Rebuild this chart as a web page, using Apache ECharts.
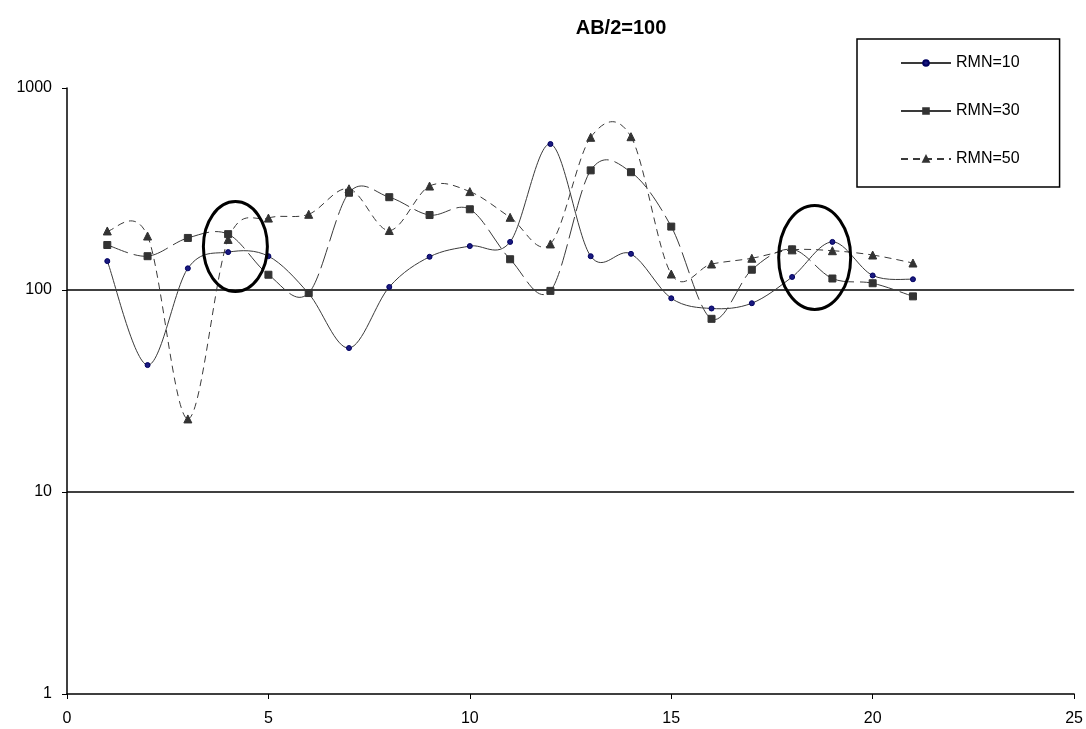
<!DOCTYPE html>
<html><head><meta charset="utf-8">
<script src="https://cdn.jsdelivr.net/npm/echarts@6/dist/echarts.min.js"></script>
<style>html,body{margin:0;padding:0;background:#fff}#c{width:1086px;height:729px}</style>
</head><body><div id="c"></div>
<script>
const xs = [1,2,3,4,5,6,7,8,9,10,11,12,13,14,15,16,17,18,19,20,21];
const rmn10 = [139,42.5,128,154,147,96,51.6,103.5,146,165,173,528,147,151,91,81,86,116,173,118,113];
const rmn30 = [167,147,181,189,119,96.6,303,288,235,251,142,99,391,383,206,72,126,159,114,108,93];
const rmn50 = [196,185,23,178,227,237,317,197,327,307,229,169,570,574,120,134.5,143.6,158,156.5,149,136];
const seriesNames = ['RMN=10','RMN=30','RMN=50'];
const titleText = 'AB/2=100';
const ellipses = [{x:4.18,y:164,rx:32,ry:45},{x:18.56,y:145,rx:36,ry:52}];

const pair = a => xs.map((x,i)=>[x,a[i]]);
const font = 'Liberation Sans, Arial, sans-serif';
const LINE = '#3a3a3a';
const styles = [
  {dash:null, symbol:'circle', size:5, color:'#1a1a80', border:'#000060'},
  {dash:[22,6], symbol:'rect', size:7, color:'#333', border:'#333'},
  {dash:[7,5], symbol:'triangle', size:8, color:'#333', border:'#333'}
];
const allVals = [rmn10, rmn30, rmn50];

// Excel-like smoothed curve drawn through the axis scales (api.coord)
function curveSeries(vals, st){
  return {
    type:'custom', data:pair(vals), encode:{x:0,y:1}, silent:true, z:2,
    renderItem:function(params, api){
      if (params.dataIndex !== 0) return null;
      const P = xs.map((x,i)=>api.coord([x, vals[i]]));
      const n = P.length, children = [];
      for (let i=0;i<n-1;i++){
        const p0 = P[Math.max(i-1,0)], p1 = P[i], p2 = P[i+1], p3 = P[Math.min(i+2,n-1)];
        children.push({type:'bezierCurve', shape:{
          x1:p1[0], y1:p1[1], x2:p2[0], y2:p2[1],
          cpx1:p1[0]+(p2[0]-p0[0])/6, cpy1:p1[1]+(p2[1]-p0[1])/6,
          cpx2:p2[0]-(p3[0]-p1[0])/6, cpy2:p2[1]-(p3[1]-p1[1])/6},
          style:{fill:null, stroke:LINE, lineWidth:1, lineDash:st.dash}});
      }
      return {type:'group', children};
    }
  };
}

const chart = echarts.init(document.getElementById('c'));
const series = [];
seriesNames.forEach((nm,k)=>{
  const st = styles[k];
  series.push({name:nm, type:'line', data:pair(allVals[k]), symbol:st.symbol, symbolSize:st.size, z:3,
    lineStyle:{color:LINE, width:1, type:st.dash||'solid', opacity:0},
    itemStyle:{color:st.color, borderColor:st.border, borderWidth:1}});
});
seriesNames.forEach((nm,k)=>series.push(curveSeries(allVals[k], styles[k])));

chart.setOption({
  animation:false,
  title:{text:titleText,left:616,top:13,textAlign:'center',textStyle:{fontFamily:font,fontSize:20,fontWeight:'bold',color:'#000'}},
  grid:{left:67,right:11,top:88,bottom:35},
  legend:{orient:'vertical',left:857,top:39,itemWidth:50,itemHeight:7,itemGap:32,
    padding:[16,40,20,43],borderColor:'#000',borderWidth:1.5,
    lineStyle:{opacity:1},
    textStyle:{fontFamily:font,fontSize:16,lineHeight:16,color:'#000'},data:seriesNames},
  xAxis:{type:'value',min:0,max:25,interval:5,
    axisLine:{lineStyle:{color:'#000',width:1.5}},
    axisTick:{show:true,length:5,lineStyle:{color:'#000'}},
    axisLabel:{fontFamily:font,fontSize:16,color:'#000',margin:17},
    splitLine:{show:false}},
  yAxis:{type:'log',logBase:10,min:1,max:1000,
    axisLine:{show:true,lineStyle:{color:'#000',width:1.5}},
    axisTick:{show:true,length:5,lineStyle:{color:'#000'}},
    axisLabel:{fontFamily:font,fontSize:16,color:'#000',margin:15,formatter:v=>String(v)},
    splitLine:{show:true,lineStyle:{color:['transparent','#000','#000','transparent'],width:1.5}}},
  series
});
const g = ellipses.map(e=>{
  const p = chart.convertToPixel({gridIndex:0},[e.x,e.y]);
  return {type:'ellipse',shape:{cx:p[0],cy:p[1],rx:e.rx,ry:e.ry},style:{fill:'none',stroke:'#000',lineWidth:3},z:100};
});
chart.setOption({graphic:g});
</script></body></html>
